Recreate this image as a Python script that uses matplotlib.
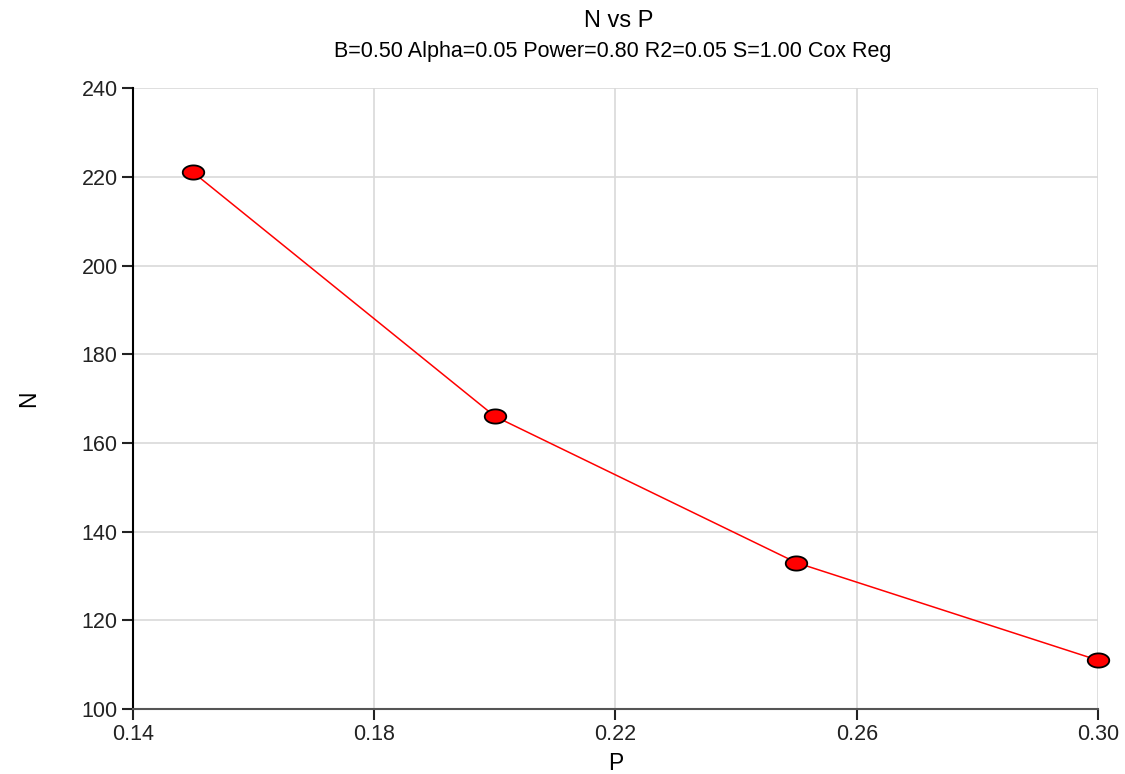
import numpy as np
import matplotlib
matplotlib.use("Agg")
import matplotlib.pyplot as plt
from matplotlib.path import Path

# data
p_values = [0.15, 0.20, 0.25, 0.30]
n_values = [221, 166, 133, 111]
x_ticks = [0.14, 0.18, 0.22, 0.26, 0.30]
y_ticks = [100, 120, 140, 160, 180, 200, 220, 240]

plt.rcParams['font.family'] = ['Liberation Sans', 'DejaVu Sans']

# flattened circle marker, like the reference
t = np.linspace(0, 2 * np.pi, 60)
ellipse = Path(np.column_stack([np.cos(t), 0.66 * np.sin(t)]), closed=True)

fig = plt.figure(figsize=(11.25, 7.74), dpi=100)
ax = fig.add_axes([0.1182, 0.084, 0.976 - 0.1182, 0.886 - 0.084])

ax.plot(p_values, n_values, color='red', linewidth=1.1, marker=ellipse,
        markersize=15.5, markerfacecolor='red', markeredgecolor='black',
        markeredgewidth=1.3, clip_on=False, zorder=3)

ax.set_xlim(0.14, 0.30)
ax.set_ylim(100, 240)
ax.set_xticks(x_ticks)
ax.set_xticklabels([f"{v:.2f}" for v in x_ticks])
ax.set_yticks(y_ticks)

ax.grid(True, color='#d9d9d9', linewidth=1.2)
ax.set_axisbelow(True)
for side in ['top', 'right']:
    ax.spines[side].set_visible(False)
ax.spines['left'].set_linewidth(1.5)
ax.spines['bottom'].set_linewidth(1.5)
ax.spines['bottom'].set_color('#555555')
ax.tick_params(axis='both', direction='out', length=8, width=1.5,
               labelsize=15.5, pad=3, colors='#222222')

ax.set_xlabel('P', fontsize=16.5, labelpad=5)
ax.set_ylabel('N', fontsize=16.5, labelpad=30)

fig.text(0.55, 0.973, 'N vs P', ha='center', va='center', fontsize=17)
fig.text(0.545, 0.933, 'B=0.50 Alpha=0.05 Power=0.80 R2=0.05 S=1.00 Cox Reg',
         ha='center', va='center', fontsize=15.5)

fig.savefig('out.png', dpi=100)
